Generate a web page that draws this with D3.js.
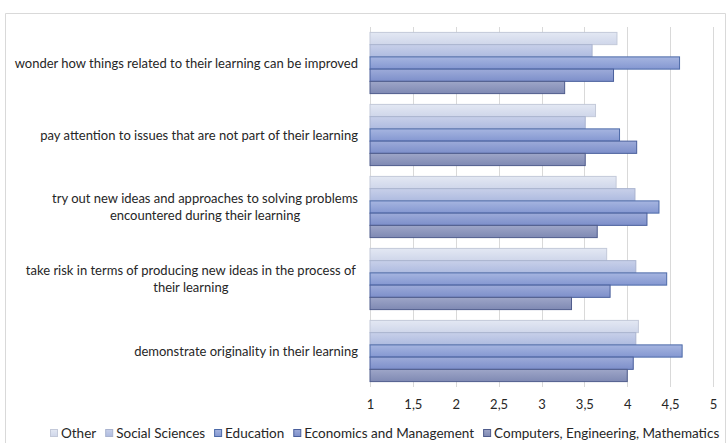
<!DOCTYPE html>
<html>
<head>
<meta charset="utf-8">
<script src="https://cdn.jsdelivr.net/npm/d3@7"></script>
<style>
  body { margin: 0; background: #fff; }
  text { font-family: Lato, "Open Sans", sans-serif; fill: #262626; }
</style>
</head>
<body>
<div id="chart"></div>
<script>
// data
var categories = [
  "wonder how things related to their learning can be improved",
  "pay attention to issues that are not part of their learning",
  "try out new ideas and approaches to solving problems\nencountered during their learning",
  "take risk in terms of producing new ideas in the process of\ntheir learning",
  "demonstrate originality in their learning"
];
var seriesNames = ["Other", "Social Sciences", "Education", "Economics and Management", "Computers, Engineering, Mathematics"];
var other      = [3.88, 3.63, 3.87, 3.76, 4.13];
var social     = [3.59, 3.51, 4.09, 4.10, 4.10];
var education  = [4.61, 3.91, 4.37, 4.46, 4.64];
var economics  = [3.84, 4.11, 4.23, 3.80, 4.07];
var computers  = [3.27, 3.51, 3.65, 3.35, 4.00];
var ticks = [1, 1.5, 2, 2.5, 3, 3.5, 4, 4.5, 5];

var values = [other, social, education, economics, computers];

// colours top->bottom of gradient, plus border
var colTop = ["#e3e8f3", "#c8d0e9", "#a6b5e0", "#9dabd9", "#9ea6c8"];
var colBot = ["#cfd6ea", "#aebbe0", "#8497d1", "#7d8fca", "#7f89b3"];
var colLine = ["#c3c9d9", "#a9b3cf", "#4d6aa8", "#4a5f9c", "#4f5c8c"];

var W = 726, H = 443;
var svg = d3.select("#chart").append("svg")
  .attr("width", W).attr("height", H);

var defs = svg.append("defs");
seriesNames.forEach(function(s, i) {
  var g = defs.append("linearGradient").attr("id", "g" + i)
    .attr("x1", 0).attr("y1", 0).attr("x2", 0).attr("y2", 1);
  g.append("stop").attr("offset", "0%").attr("stop-color", colTop[i]);
  g.append("stop").attr("offset", "100%").attr("stop-color", colBot[i]);
});

// frame
svg.append("path")
  .attr("d", "M5.5," + H + "V13.5H725.5V" + H)
  .attr("fill", "none").attr("stroke", "#d9d9d9");

var x = d3.scaleLinear().domain([1, 5]).range([370, 713]);
var y = d3.scaleBand().domain(categories).range([27, 387])
  .paddingInner(0.15).paddingOuter(0.075);
var yi = d3.scaleBand().domain(d3.range(seriesNames.length)).range([0, y.bandwidth()]);

// grid
svg.append("g").selectAll("line").data(ticks).enter().append("line")
  .attr("x1", function(d) { return Math.round(x(d)) + 0.5; })
  .attr("x2", function(d) { return Math.round(x(d)) + 0.5; })
  .attr("y1", 27).attr("y2", 387)
  .attr("stroke", "#d9d9d9");

// bars
var groups = svg.append("g").selectAll("g").data(categories).enter().append("g")
  .attr("transform", function(d) { return "translate(0," + y(d) + ")"; });

groups.selectAll("rect")
  .data(function(d, ci) { return values.map(function(v, si) { return { s: si, v: v[ci] }; }); })
  .enter().append("rect")
  .attr("x", x(1))
  .attr("y", function(d) { return yi(d.s); })
  .attr("width", function(d) { return x(d.v) - x(1); })
  .attr("height", yi.bandwidth())
  .attr("fill", function(d) { return "url(#g" + d.s + ")"; })
  .attr("stroke", function(d) { return colLine[d.s]; })
  .attr("stroke-width", 1);

// x axis labels
var xAxis = d3.axisBottom(x).tickValues(ticks).tickSize(0)
  .tickFormat(function(d) { return String(d).replace(".", ","); });
var ax = svg.append("g").attr("transform", "translate(0,397)").call(xAxis);
ax.select(".domain").remove();
ax.selectAll("text").style("font-size", "13px").style("font-family", "Lato, sans-serif").attr("fill", "#262626");

// category labels
categories.forEach(function(c) {
  var lines = c.split("\n");
  var t = svg.append("text").style("font-size", "13px").attr("text-anchor", "middle");
  lines.forEach(function(l, i) {
    t.append("tspan").text(l);
  });
  // measure widest line
  var maxW = 0;
  t.selectAll("tspan").each(function() {
    maxW = Math.max(maxW, this.getComputedTextLength());
  });
  var cx = 358 - maxW / 2;
  var cy = y(c) + y.bandwidth() / 2;
  var lh = 17;
  var y0 = cy - (lines.length - 1) * lh / 2;
  t.selectAll("tspan")
    .attr("x", cx)
    .attr("y", function(d, i) { return y0 + i * lh; })
    .attr("dy", "0.35em");
});

// legend
var leg = svg.append("g");
var lx = 50;
seriesNames.forEach(function(s, i) {
  leg.append("rect").attr("x", lx + 0.5).attr("y", 429.5).attr("width", 7).attr("height", 7)
    .attr("fill", "url(#g" + i + ")").attr("stroke", colLine[i]);
  var t = leg.append("text").attr("x", lx + 11).attr("y", 433).attr("dy", "0.35em")
    .style("font-size", "13.5px").text(s);
  lx += 11 + t.node().getComputedTextLength() + 9;
});
</script>
</body>
</html>
